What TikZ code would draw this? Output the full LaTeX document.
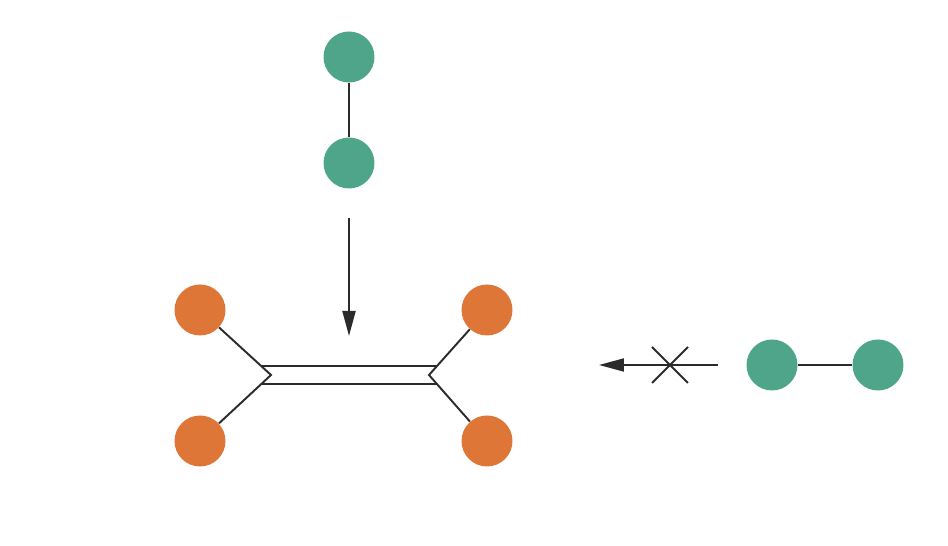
\documentclass[tikz,border=0pt]{standalone}
\usepackage{tikz}
\usetikzlibrary{arrows.meta, positioning}
\definecolor{teal1}{HTML}{4FA58A}
\definecolor{orng}{HTML}{DE7638}
\definecolor{ink}{HTML}{2B2B2B}
\begin{document}
\begin{tikzpicture}[x=0.02cm, y=-0.02cm,
    atomg/.style={circle, fill=teal1, minimum size=1.02cm, inner sep=0pt},
    atomo/.style={circle, fill=orng, minimum size=1.02cm, inner sep=0pt},
    bond/.style={draw=ink, line width=1.1pt},
    react/.style={draw=ink, line width=1.1pt, -{Triangle[length=0.5cm, width=0.26cm]}}
]
    \useasboundingbox (0,0) rectangle (948,546);
    % ethene
    \coordinate (jl) at (271,375);
    \coordinate (jr) at (429,375);
    \node[atomo] (o1) at (200,310) {};
    \node[atomo] (o2) at (200,441) {};
    \node[atomo] (o3) at (487,310) {};
    \node[atomo] (o4) at (487,441) {};
    \draw[bond] (o1) -- (jl) -- (o2);
    \draw[bond] (o3) -- (jr) -- (o4);
    \coordinate (t1) at (261.5,366);
    \coordinate (t2) at (436.5,366);
    \coordinate (b1) at (261.5,384);
    \coordinate (b2) at (436.5,384);
    \draw[bond] (t1) -- (t2);
    \draw[bond] (b1) -- (b2);
    % top diatomic
    \node[atomg] (g1) at (349,57) {};
    \node[atomg] (g2) at (349,163) {};
    \draw[bond] (g1) -- (g2);
    \coordinate (a1) at (349,218);
    \coordinate (a2) at (349,336);
    \draw[react] (a1) -- (a2);
    % right diatomic, blocked
    \node[atomg] (g3) at (772,365) {};
    \node[atomg] (g4) at (878,365) {};
    \draw[bond] (g3) -- (g4);
    \coordinate (r1) at (718,365);
    \coordinate (r2) at (599,365);
    \draw[react] (r1) -- (r2);
    \coordinate (x0) at (670,365);
    \draw[bond] ([shift={(-18,-18)}]x0) -- ([shift={(18,18)}]x0);
    \draw[bond] ([shift={(-18,18)}]x0) -- ([shift={(18,-18)}]x0);
\end{tikzpicture}
\end{document}
